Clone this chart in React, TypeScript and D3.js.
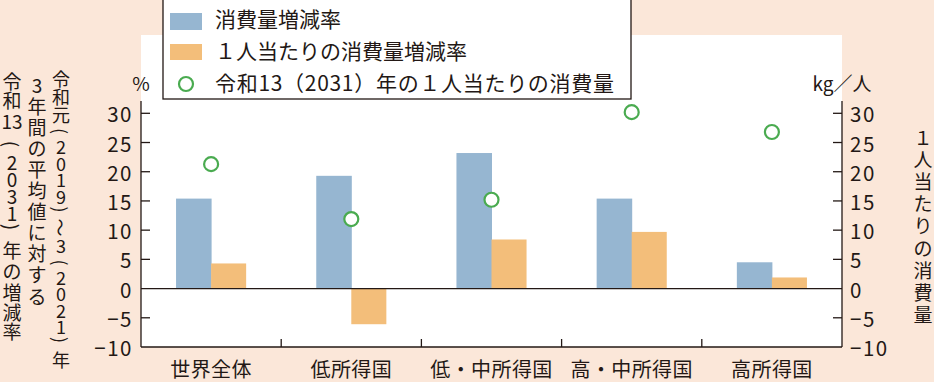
import React from 'react';
import * as d3 from 'd3';

const categories = ['世界全体', '低所得国', '低・中所得国', '高・中所得国', '高所得国'];
const consumptionChange = [15.4, 19.3, 23.2, 15.4, 4.5];
const perCapitaChange = [4.3, -6.1, 8.4, 9.7, 1.9];
const perCapita2031 = [21.3, 11.9, 15.2, 30.2, 26.8];
const yTicks = [30, 25, 20, 15, 10, 5, 0, -5, -10];
const legendLabels = ['消費量増減率', '１人当たりの消費量増減率', '令和13（2031）年の１人当たりの消費量'];

const W = 934;
const H = 382;
const BG = '#fbe7d9';
const BLUE = '#96b6d1';
const ORANGE = '#f3be7a';
const GREEN = '#4aab50';
const INK = '#231815';
const JP = '"Noto Sans CJK JP", "Noto Sans", sans-serif';

type Cell = { t: string; a: number; rot?: boolean };

function VText({ x, y0, cells, size }: { x: number; y0: number; cells: Cell[]; size: number }) {
  let y = y0;
  const out: React.ReactNode[] = [];
  cells.forEach((c, i) => {
    if (i > 0) y += c.a;
    out.push(
      <text
        key={i}
        x={x}
        y={y}
        textAnchor="middle"
        dominantBaseline="central"
        fontSize={size}
        fontFamily={JP}
        fill={INK}
        transform={c.rot ? `rotate(90 ${x} ${y})` : undefined}
      >
        {c.t}
      </text>
    );
  });
  return <g>{out}</g>;
}

const K = (t: string, a: number): Cell => ({ t, a });
const R = (t: string, a: number): Cell => ({ t, a, rot: true });

export default function App() {
  const left = 141;
  const right = 842;
  const x = d3.scaleBand<string>().domain(categories).range([left, right]);
  const y = d3.scaleLinear().domain([-10, 30]).range([347, 113.3]);
  const bw = x.bandwidth() * 0.25;
  const cx = (c: string) => (x(c) as number) + x.bandwidth() / 2;
  const top = 101;
  const bottom = y(-10);

  const col1: Cell[] = [
    K('令', 0), K('和', 18), K('元', 18), R('(', 17), K('2', 15), K('0', 16.5), K('1', 16.5), K('9', 16.5),
    R(')', 14), R('～', 18), K('3', 17), R('(', 18), K('2', 14), K('0', 16.5), K('2', 16.5),
    K('1', 16.5), R(')', 14), K('年', 19),
  ];
  const col2: Cell[] = '3年間の平均値に対する'.split('').map((t, i) => K(t, i === 0 ? 0 : 21.1));
  const col3: Cell[] = [
    K('令', 0), K('和', 19), K('13', 21), R('(', 24), K('2', 17), K('0', 17), K('3', 17), K('1', 17),
    R(')', 15), K('年', 22), K('の', 21), K('増', 21), K('減', 20), K('率', 19),
  ];
  const colR: Cell[] = '１人当たりの消費量'.split('').map((t, i) => K(t, i === 0 ? 0 : 22.2));

  const fmt = (v: number) => (v < 0 ? '−' + Math.abs(v) : String(v));

  return (
    <svg width={W} height={H} style={{ position: 'absolute', left: 0, top: 0 }}>
      <rect x={0} y={0} width={W} height={H} fill={BG} />
      <rect x={left} y={35} width={right - left} height={bottom - 35} fill="#fff" />

      {/* bars */}
      {categories.map((c, i) => (
        <g key={c}>
          <rect x={cx(c) - bw} y={y(Math.max(0, consumptionChange[i]))} width={bw + 0.5}
            height={Math.abs(y(consumptionChange[i]) - y(0))} fill={BLUE} />
          <rect x={cx(c)} y={y(Math.max(0, perCapitaChange[i]))} width={bw}
            height={Math.abs(y(perCapitaChange[i]) - y(0))} fill={ORANGE} />
        </g>
      ))}

      {/* zero line & frame */}
      <line x1={left} x2={right} y1={y(0)} y2={y(0)} stroke={INK} strokeWidth={1.3} />
      <line x1={left} x2={right} y1={bottom} y2={bottom} stroke={INK} strokeWidth={1.3} />
      <line x1={left} x2={left} y1={top} y2={bottom} stroke={INK} strokeWidth={1.3} />
      <line x1={right} x2={right} y1={top} y2={bottom} stroke={INK} strokeWidth={1.3} />
      {categories.slice(1).map((c) => (
        <line key={c} x1={x(c) as number} x2={x(c) as number} y1={bottom} y2={bottom - 8} stroke={INK} strokeWidth={1.3} />
      ))}
      {yTicks.filter((t) => t !== -10 && t !== 0).map((t) => (
        <g key={t}>
          <line x1={left} x2={left + 9} y1={y(t)} y2={y(t)} stroke={INK} strokeWidth={1.3} />
          <line x1={right - 9} x2={right} y1={y(t)} y2={y(t)} stroke={INK} strokeWidth={1.3} />
        </g>
      ))}

      {/* circles */}
      {categories.map((c, i) => (
        <circle key={c} cx={cx(c)} cy={y(perCapita2031[i])} r={7} fill="#fff" stroke={GREEN} strokeWidth={2.2} />
      ))}

      {/* tick labels */}
      {yTicks.map((t) => (
        <g key={t}>
          <text x={133} y={y(t)} textAnchor="end" dominantBaseline="central" fontSize={20.5}
            fontFamily={JP} fill={INK} letterSpacing={1.5}>{fmt(t)}</text>
          <text x={850} y={y(t)} textAnchor="start" dominantBaseline="central" fontSize={20.5}
            fontFamily={JP} fill={INK} letterSpacing={1.5}>{fmt(t)}</text>
        </g>
      ))}

      {/* category labels */}
      {categories.map((c) => (
        <text key={c} x={cx(c)} y={368} textAnchor="middle" dominantBaseline="central" fontSize={20}
          fontFamily={JP} fill={INK} letterSpacing={0.4}>{c}</text>
      ))}

      {/* units */}
      <text x={141} y={82} textAnchor="middle" dominantBaseline="central" fontSize={19} fontFamily={JP} fill={INK}>%</text>
      <text x={842} y={82} textAnchor="middle" dominantBaseline="central" fontSize={19} fontFamily={JP} fill={INK}>kg／人</text>

      {/* axis titles */}
      <VText x={61} y0={78} cells={col1} size={18} />
      <VText x={37} y0={84} cells={col2} size={19} />
      <VText x={12} y0={80} cells={col3} size={19} />
      <VText x={923} y0={136} cells={colR} size={19} />

      {/* legend */}
      <rect x={163} y={-1} width={468} height={100} fill="#fff" stroke={INK} strokeWidth={1.3} />
      <rect x={170} y={13} width={32} height={17} fill={BLUE} />
      <rect x={170} y={44} width={32} height={16} fill={ORANGE} />
      <circle cx={186} cy={84} r={7} fill="#fff" stroke={GREEN} strokeWidth={2.2} />
      {legendLabels.map((l, i) => (
        <text key={l} x={215} y={18 + i * 32} dominantBaseline="central" fontSize={21} fontFamily={JP} fill={INK}
          letterSpacing={i === 2 ? 0.7 : 0}>{l}</text>
      ))}
    </svg>
  );
}
